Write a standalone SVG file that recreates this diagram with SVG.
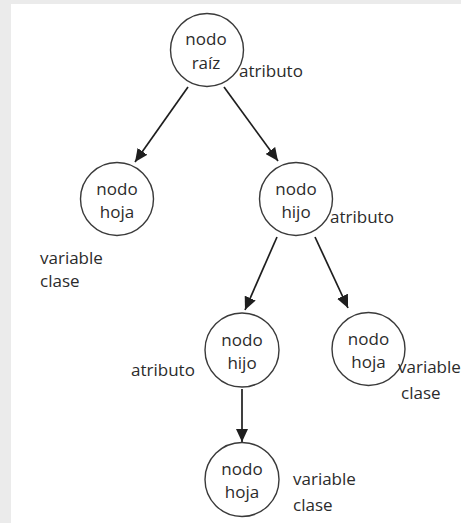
<svg xmlns="http://www.w3.org/2000/svg" width="461" height="523" viewBox="0 0 461 523">
  <style>
    .node circle { fill: #ffffff; stroke: #3a3a3a; stroke-width: 1.4; }
    .node text, .label { font-family: "Open Sans", "Liberation Sans", sans-serif; font-size: 17px; fill: #2b2b2b; }
    .node text { text-anchor: middle; }
    .edge { stroke: #1e1e1e; stroke-width: 1.7; fill: none; marker-end: url(#arrow); }
  </style>
  <defs>
    <marker id="arrow" markerUnits="userSpaceOnUse" markerWidth="14" markerHeight="12" viewBox="0 0 14 12" refX="13" refY="6" orient="auto">
      <path d="M0,0 L13,6 L0,12 Z" fill="#1e1e1e"/>
    </marker>
  </defs>

  <!-- page background and white panel -->
  <rect x="0" y="0" width="461" height="523" fill="#ebebeb"/>
  <rect x="11" y="4" width="450" height="519" fill="#ffffff"/>

  <!-- connectors -->
  <g id="connectors">
    <line class="edge" x1="188" y1="87" x2="135" y2="162"/>
    <line class="edge" x1="224" y1="87" x2="278" y2="161"/>
    <line class="edge" x1="277" y1="237" x2="245" y2="310"/>
    <line class="edge" x1="315" y1="237" x2="348" y2="308"/>
    <line class="edge" x1="242" y1="389" x2="242" y2="442"/>
  </g>

  <!-- nodes -->
  <g id="root" class="node">
    <circle cx="207" cy="50" r="36.5"/>
    <text x="206" y="45">nodo</text>
    <text x="206" y="69">raíz</text>
  </g>
  <g id="leaf-left" class="node">
    <circle cx="117" cy="199" r="36.5"/>
    <text x="117" y="195">nodo</text>
    <text x="117" y="218">hoja</text>
  </g>
  <g id="child-right" class="node">
    <circle cx="296" cy="199" r="36.5"/>
    <text x="296" y="195">nodo</text>
    <text x="296" y="218">hijo</text>
  </g>
  <g id="child-lower" class="node">
    <circle cx="242" cy="350" r="37"/>
    <text x="242" y="346">nodo</text>
    <text x="242" y="369">hijo</text>
  </g>
  <g id="leaf-right" class="node">
    <circle cx="368.5" cy="349" r="36.5"/>
    <text x="368.5" y="345">nodo</text>
    <text x="368.5" y="368">hoja</text>
  </g>
  <g id="leaf-bottom" class="node">
    <circle cx="242" cy="479.5" r="37"/>
    <text x="242" y="475">nodo</text>
    <text x="242" y="498">hoja</text>
  </g>

  <!-- labels -->
  <g id="labels">
    <text class="label" x="239" y="77">atributo</text>
    <text class="label" x="330" y="223">atributo</text>
    <text class="label" x="131" y="376">atributo</text>
    <text class="label" x="40" y="264">variable</text>
    <text class="label" x="40" y="287">clase</text>
    <text class="label" x="398" y="373">variable</text>
    <text class="label" x="401" y="399">clase</text>
    <text class="label" x="293" y="485">variable</text>
    <text class="label" x="293" y="511">clase</text>
  </g>
</svg>
